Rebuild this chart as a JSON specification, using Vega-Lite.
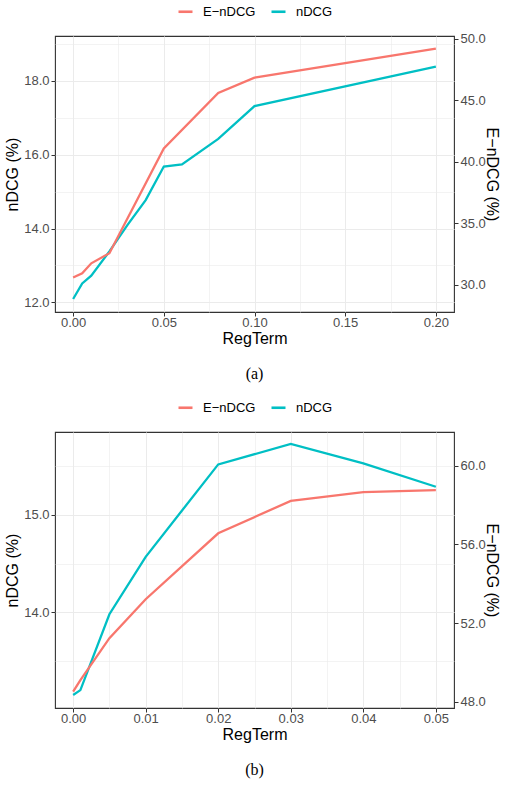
{
  "$schema": "https://vega.github.io/schema/vega-lite/v6.json",
  "padding": {"left": 4, "top": 2, "right": 6, "bottom": 5},
  "datasets": {
    "panelA": [
      {"RegTerm": 0.0, "series": "nDCG", "value": 12.09},
      {"RegTerm": 0.005, "series": "nDCG", "value": 12.51},
      {"RegTerm": 0.01, "series": "nDCG", "value": 12.72},
      {"RegTerm": 0.02, "series": "nDCG", "value": 13.38},
      {"RegTerm": 0.03, "series": "nDCG", "value": 14.1},
      {"RegTerm": 0.04, "series": "nDCG", "value": 14.77},
      {"RegTerm": 0.05, "series": "nDCG", "value": 15.68},
      {"RegTerm": 0.06, "series": "nDCG", "value": 15.74},
      {"RegTerm": 0.08, "series": "nDCG", "value": 16.43},
      {"RegTerm": 0.1, "series": "nDCG", "value": 17.32},
      {"RegTerm": 0.2, "series": "nDCG", "value": 18.39},
      {"RegTerm": 0.0, "series": "E−nDCG", "value": 30.61},
      {"RegTerm": 0.005, "series": "E−nDCG", "value": 30.95},
      {"RegTerm": 0.01, "series": "E−nDCG", "value": 31.76},
      {"RegTerm": 0.02, "series": "E−nDCG", "value": 32.58},
      {"RegTerm": 0.05, "series": "E−nDCG", "value": 41.1},
      {"RegTerm": 0.08, "series": "E−nDCG", "value": 45.61},
      {"RegTerm": 0.1, "series": "E−nDCG", "value": 46.85},
      {"RegTerm": 0.2, "series": "E−nDCG", "value": 49.21}
    ],
    "panelB": [
      {"RegTerm": 0.0, "series": "nDCG", "value": 13.15},
      {"RegTerm": 0.001, "series": "nDCG", "value": 13.2},
      {"RegTerm": 0.005, "series": "nDCG", "value": 13.98},
      {"RegTerm": 0.01, "series": "nDCG", "value": 14.57},
      {"RegTerm": 0.02, "series": "nDCG", "value": 15.52},
      {"RegTerm": 0.03, "series": "nDCG", "value": 15.73},
      {"RegTerm": 0.04, "series": "nDCG", "value": 15.53},
      {"RegTerm": 0.05, "series": "nDCG", "value": 15.29},
      {"RegTerm": 0.0, "series": "E−nDCG", "value": 48.51},
      {"RegTerm": 0.001, "series": "E−nDCG", "value": 49.1},
      {"RegTerm": 0.005, "series": "E−nDCG", "value": 51.23},
      {"RegTerm": 0.01, "series": "E−nDCG", "value": 53.21},
      {"RegTerm": 0.02, "series": "E−nDCG", "value": 56.56},
      {"RegTerm": 0.03, "series": "E−nDCG", "value": 58.21},
      {"RegTerm": 0.04, "series": "E−nDCG", "value": 58.65},
      {"RegTerm": 0.05, "series": "E−nDCG", "value": 58.76}
    ]
  },
  "spacing": 15,
  "resolve": {"scale": {"color": "independent"}, "legend": {"color": "independent"}},
  "vconcat": [
    {
      "width": 399,
      "height": 276,
      "title": {"text": "(a)", "orient": "bottom", "anchor": "middle", "offset": 20},
      "data": {"name": "panelA"},
      "encoding": {
        "x": {
          "field": "RegTerm", "type": "quantitative", "title": "RegTerm",
          "scale": {"domain": [-0.01, 0.21], "nice": false, "zero": false},
          "axis": {
            "values": [0, 0.025, 0.05, 0.075, 0.1, 0.125, 0.15, 0.175, 0.2],
            "labelExpr": "abs(datum.value * 20 - round(datum.value * 20)) < 0.001 ? format(datum.value, '.2f') : ''",
            "tickOpacity": {"condition": {"test": "abs(datum.value * 20 - round(datum.value * 20)) < 0.001", "value": 1}, "value": 0},
            "gridWidth": {"condition": {"test": "abs(datum.value * 20 - round(datum.value * 20)) < 0.001", "value": 1}, "value": 0.6},
            "labelPadding": 0,
            "titlePadding": 1
          }
        },
        "color": {
          "field": "series", "type": "nominal",
          "scale": {"domain": ["E−nDCG", "nDCG"], "range": ["#F8766D", "#00BFC4"]},
          "legend": {"title": null, "orient": "top", "direction": "horizontal"}
        }
      },
      "layer": [
        {
          "transform": [{"filter": "datum.series === 'nDCG'"}],
          "mark": {"type": "line", "strokeWidth": 2.3},
          "encoding": {
            "y": {
              "field": "value", "type": "quantitative", "title": "nDCG (%)",
              "scale": {"domain": [11.737, 19.22], "nice": false, "zero": false},
              "axis": {
                "values": [12, 13, 14, 15, 16, 17, 18, 19],
                "labelExpr": "datum.value % 2 === 0 ? format(datum.value, '.1f') : ''",
                "tickOpacity": {"condition": {"test": "datum.value % 2 === 0", "value": 1}, "value": 0},
                "gridWidth": {"condition": {"test": "datum.value % 2 === 0", "value": 1}, "value": 0.6}
              }
            }
          }
        },
        {
          "transform": [{"filter": "datum.series === 'E−nDCG'"}],
          "mark": {"type": "line", "strokeWidth": 2.3},
          "encoding": {
            "y": {
              "field": "value", "type": "quantitative", "title": "E−nDCG (%)",
              "scale": {"domain": [27.8, 50.24], "nice": false, "zero": false},
              "axis": {"orient": "right", "values": [30, 35, 40, 45, 50], "format": ".1f", "grid": false, "titlePadding": -2}
            }
          }
        }
      ],
      "resolve": {"scale": {"y": "independent"}}
    },
    {
      "width": 399,
      "height": 276,
      "title": {"text": "(b)", "orient": "bottom", "anchor": "middle", "offset": 20},
      "data": {"name": "panelB"},
      "encoding": {
        "x": {
          "field": "RegTerm", "type": "quantitative", "title": "RegTerm",
          "scale": {"domain": [-0.0025, 0.0525], "nice": false, "zero": false},
          "axis": {
            "values": [0, 0.005, 0.01, 0.015, 0.02, 0.025, 0.03, 0.035, 0.04, 0.045, 0.05],
            "labelExpr": "abs(datum.value * 100 - round(datum.value * 100)) < 0.001 ? format(datum.value, '.2f') : ''",
            "tickOpacity": {"condition": {"test": "abs(datum.value * 100 - round(datum.value * 100)) < 0.001", "value": 1}, "value": 0},
            "gridWidth": {"condition": {"test": "abs(datum.value * 100 - round(datum.value * 100)) < 0.001", "value": 1}, "value": 0.6},
            "labelPadding": 0,
            "titlePadding": 1
          }
        },
        "color": {
          "field": "series", "type": "nominal",
          "scale": {"domain": ["E−nDCG", "nDCG"], "range": ["#F8766D", "#00BFC4"]},
          "legend": {"title": null, "orient": "top", "direction": "horizontal"}
        }
      },
      "layer": [
        {
          "transform": [{"filter": "datum.series === 'nDCG'"}],
          "mark": {"type": "line", "strokeWidth": 2.3},
          "encoding": {
            "y": {
              "field": "value", "type": "quantitative", "title": "nDCG (%)",
              "scale": {"domain": [13.016, 15.853], "nice": false, "zero": false},
              "axis": {
                "values": [13.5, 14, 14.5, 15, 15.5],
                "labelExpr": "datum.value % 1 === 0 ? format(datum.value, '.1f') : ''",
                "tickOpacity": {"condition": {"test": "datum.value % 1 === 0", "value": 1}, "value": 0},
                "gridWidth": {"condition": {"test": "datum.value % 1 === 0", "value": 1}, "value": 0.6}
              }
            }
          }
        },
        {
          "transform": [{"filter": "datum.series === 'E−nDCG'"}],
          "mark": {"type": "line", "strokeWidth": 2.3},
          "encoding": {
            "y": {
              "field": "value", "type": "quantitative", "title": "E−nDCG (%)",
              "scale": {"domain": [47.68, 61.71], "nice": false, "zero": false},
              "axis": {"orient": "right", "values": [48, 52, 56, 60], "format": ".1f", "grid": false, "titlePadding": -2}
            }
          }
        }
      ],
      "resolve": {"scale": {"y": "independent"}}
    }
  ],
  "config": {
    "view": {"stroke": "#333333", "strokeWidth": 1.1},
    "font": "Liberation Sans",
    "axis": {
      "domain": false,
      "grid": true,
      "gridColor": "#EBEBEB",
      "tickColor": "#333333",
      "tickSize": 4,
      "tickWidth": 1,
      "labelFont": "Liberation Sans",
      "labelFontSize": 13,
      "labelColor": "#4D4D4D",
      "labelPadding": 2,
      "titleFont": "Liberation Sans",
      "titleFontSize": 16,
      "titleFontWeight": "normal",
      "titleColor": "#000000",
      "titlePadding": 3
    },
    "legend": {
      "symbolType": "stroke",
      "symbolStrokeWidth": 2.6,
      "symbolSize": 196,
      "labelFont": "Liberation Sans",
      "labelFontSize": 13,
      "labelColor": "#000000",
      "labelOffset": 9,
      "columnPadding": 10,
      "offset": 17,
      "layout": {"top": {"anchor": "middle"}}
    },
    "title": {
      "font": "Liberation Serif",
      "fontSize": 16,
      "fontWeight": "normal",
      "color": "#000000"
    }
  }
}
